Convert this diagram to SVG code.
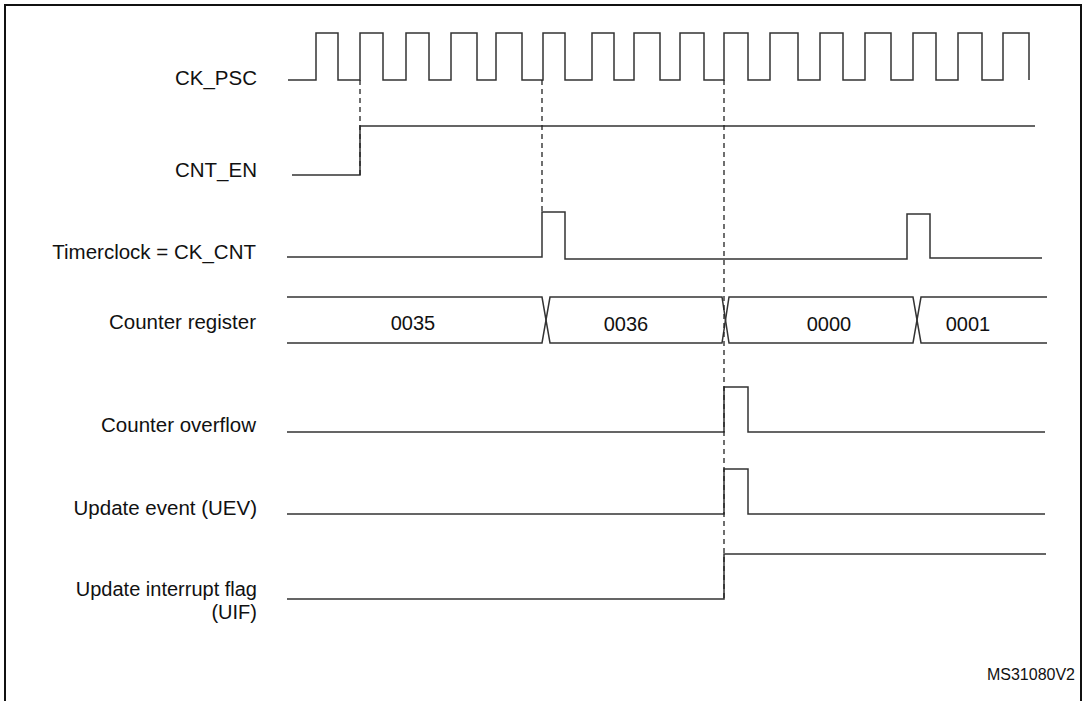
<svg xmlns="http://www.w3.org/2000/svg" width="1085" height="701" viewBox="0 0 1085 701">
<style>
.s{fill:none;stroke:#333;stroke-width:1.5}
.d{fill:none;stroke:#222;stroke-width:1.3;stroke-dasharray:5,4}
.l{font-family:"Liberation Sans",Arial,sans-serif;font-size:20.5px;fill:#111;text-anchor:end}
.v{font-family:"Liberation Sans",Arial,sans-serif;font-size:20px;fill:#111;text-anchor:middle}
</style>
<rect width="1085" height="701" fill="#fff"/>
<path d="M5,701 V5 H1081 V701" fill="none" stroke="#111" stroke-width="2"/>
<g id="labels">
<text class="l" x="257" y="85">CK_PSC</text>
<text class="l" x="257" y="177">CNT_EN</text>
<text class="l" x="256" y="259">Timerclock = CK_CNT</text>
<text class="l" x="256" y="329">Counter register</text>
<text class="l" x="256" y="432">Counter overflow</text>
<text class="l" x="257" y="515">Update event (UEV)</text>
<text class="l" x="257" y="596" style="font-size:20px">Update interrupt flag</text>
<text class="l" x="257" y="619" style="font-size:20px">(UIF)</text>
</g>
<g id="ck_psc"><path class="s" d="M288,80 H316 V33 H338 V80 H360 V33 H383 V80 H406 V33 H429 V80 H451 V33 H477 V80 H496 V33 H522 V80 H543 V33 H565 V80 H592 V33 H614 V80 H634 V33 H660 V80 H680 V33 H704 V80 H724 V33 H748 V80 H770 V33 H798 V80 H820 V33 H843 V80 H865 V33 H891 V80 H913 V33 H936 V80 H958 V33 H982 V80 H1003 V33 H1029 V80"/></g>
<g id="cnt_en"><path class="s" d="M292,175 H360 V126 H1035"/></g>
<g id="timerclock"><path class="s" d="M287,257 H542 V212 H565 V259 H907 V214 H930 V258 H1042"/></g>
<g id="counter">
<path class="s" d="M287,297 H542 L550,343 H722 L729,297 H913 L921,343 H1047"/>
<path class="s" d="M287,343 H542 L550,297 H722 L729,343 H913 L921,297 H1047"/>
<text class="v" x="413" y="330">0035</text>
<text class="v" x="626" y="331">0036</text>
<text class="v" x="829" y="331">0000</text>
<text class="v" x="968" y="331">0001</text>
</g>
<g id="overflow"><path class="s" d="M287,432 H724 V387 H748 V432 H1045"/></g>
<g id="uev"><path class="s" d="M287,514 H724 V469 H748 V514 H1045"/></g>
<g id="uif"><path class="s" d="M287,599 H724 V554 H1046"/></g>
<g id="connectors">
<line class="d" x1="360" y1="80" x2="360" y2="175"/>
<line class="d" x1="542" y1="80" x2="542" y2="212"/>
<line class="d" x1="724" y1="80" x2="724" y2="599"/>
</g>
<text x="1075" y="680" font-family="Liberation Sans,Arial,sans-serif" font-size="16" fill="#111" text-anchor="end">MS31080V2</text>
</svg>
